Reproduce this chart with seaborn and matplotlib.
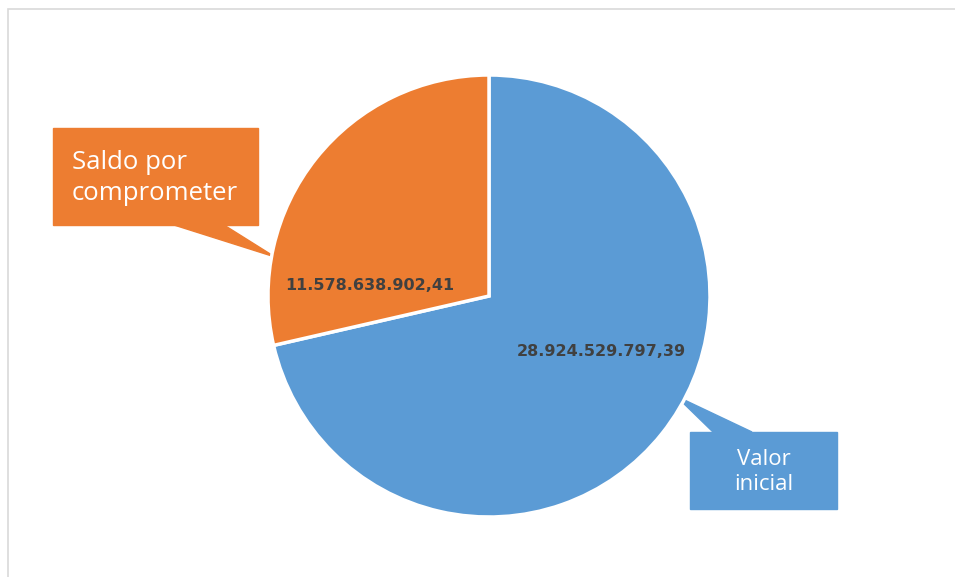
import numpy as np
import matplotlib
matplotlib.use('Agg')
import matplotlib.pyplot as plt
from matplotlib.patches import Rectangle, Polygon
import seaborn as sns

# Data
categories = ['Valor inicial', 'Saldo por\ncomprometer']
values = [28924529797.39, 11578638902.41]
colors = ['#5B9BD5', '#ED7D31']


def fmt_es(v):
    # spanish style number: 28.924.529.797,39
    s = '{:,.2f}'.format(v)
    return s.replace(',', 'X').replace('.', ',').replace('X', '.')


sns.set_theme(style='white')
plt.rcParams['font.family'] = ['DejaVu Sans']

W, H = 955, 577
fig = plt.figure(figsize=(W / 100, H / 100), dpi=100)
ax = fig.add_axes([0, 0, 1, 1])

# pie in pixel-like coordinates (y measured from bottom)
cx, cy, r = 489, H - 296, 221

# leader wedges drawn under the pie
ax.add_patch(Polygon([[174, H - 225], [224, H - 225], [275, H - 257]],
                     closed=True, color=colors[1], zorder=1))
ax.add_patch(Polygon([[713, H - 432], [752, H - 432], [676, H - 396]],
                     closed=True, color=colors[0], zorder=1))

wedges, _ = ax.pie(values, colors=colors, startangle=90, counterclock=False,
                   center=(cx, cy), radius=r,
                   wedgeprops=dict(edgecolor='white', linewidth=2.5))
for w in wedges:
    w.set_zorder(2)

# value labels
ax.text(601, H - 351, fmt_es(values[0]), ha='center', va='center',
        fontsize=11.5, fontweight='bold', color='#404040',
        family='DejaVu Sans', zorder=5)
ax.text(370, H - 285, fmt_es(values[1]), ha='center', va='center',
        fontsize=11.5, fontweight='bold', color='#404040',
        family='DejaVu Sans', zorder=5)

# callout boxes
ax.add_patch(Rectangle((53, H - 225), 205, 97, color=colors[1], zorder=3))
ax.text(72, H - 178, categories[1], ha='left', va='center', fontsize=18.5,
        color='white', family='Open Sans', linespacing=1.35, zorder=5)
ax.add_patch(Rectangle((690, H - 509), 147, 77, color=colors[0], zorder=3))
ax.text(764, H - 472, categories[0].replace(' ', '\n'), ha='center',
        va='center', fontsize=16, color='white', family='Open Sans',
        linespacing=1.25, zorder=5)

# outer chart frame
ax.add_patch(Rectangle((8, -10), W + 20, H - 9 + 10, fill=False,
                       edgecolor='#d9d9d9', linewidth=1.2, zorder=0))

ax.set_xlim(0, W)
ax.set_ylim(0, H)
ax.set_aspect('equal')
ax.axis('off')

fig.savefig('out.png', dpi=100)
